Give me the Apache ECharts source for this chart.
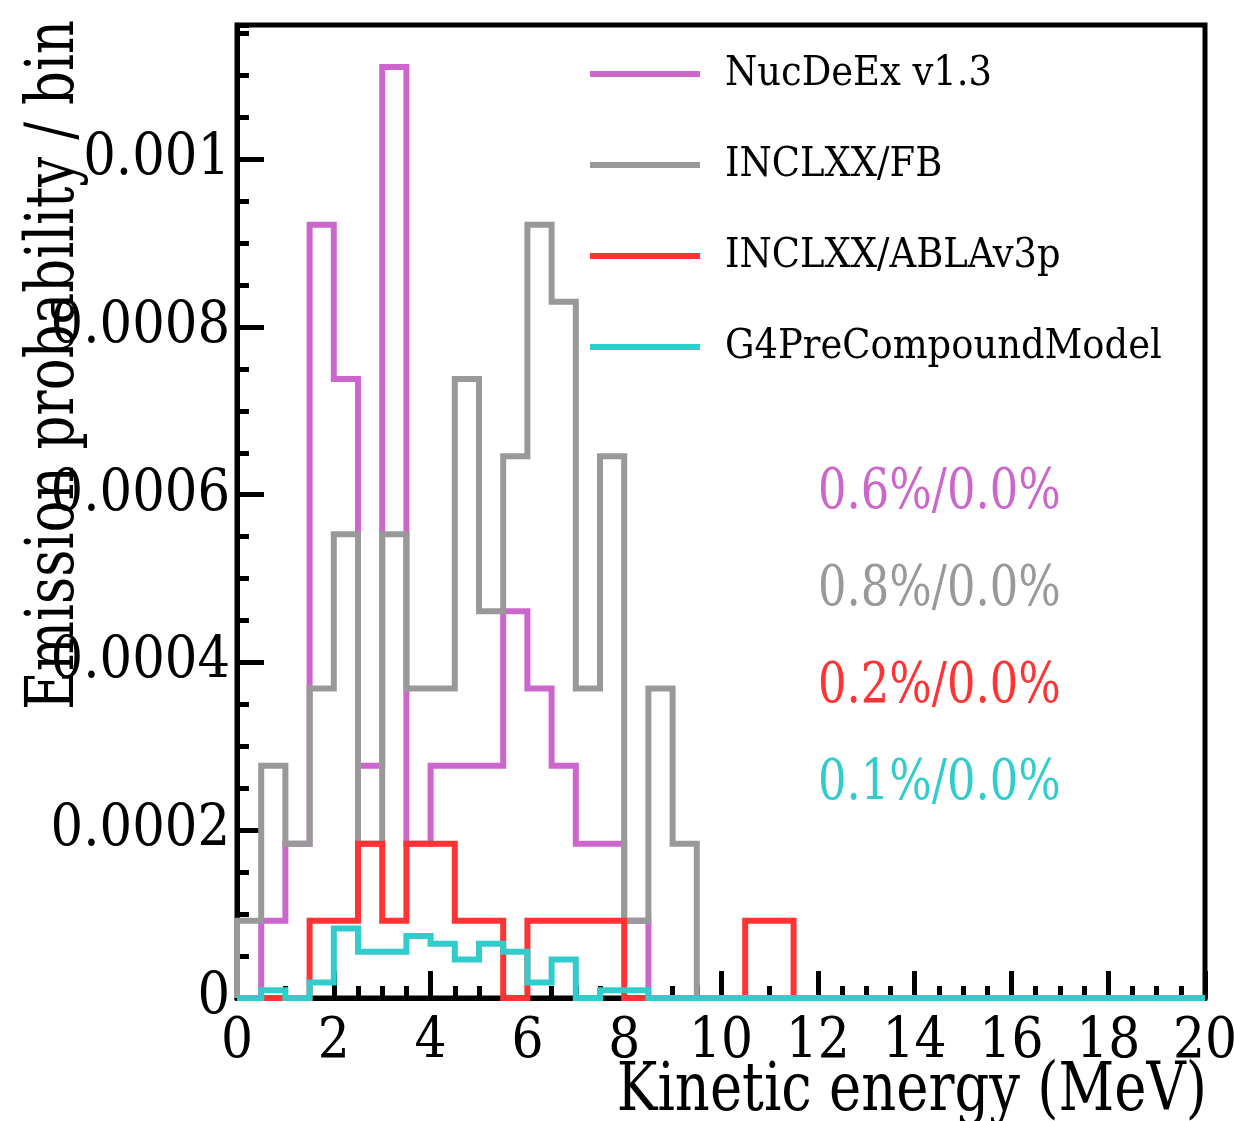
<!DOCTYPE html>
<html>
<head>
<meta charset="utf-8">
<script src="https://cdn.jsdelivr.net/npm/echarts@6/dist/echarts.min.js"></script>
<style>
  html, body { margin: 0; padding: 0; background: #fff; }
  #chart { width: 1234px; height: 1121px; }
</style>
</head>
<body>
<div id="chart"></div>
<script>
// bin width 0.5 MeV, 40 bins from 0 to 20 MeV
const binWidth = 0.5;
const xMax = 20;
const yMax = 0.00116;

const seriesNames = ["NucDeEx v1.3", "INCLXX/FB", "INCLXX/ABLAv3p", "G4PreCompoundModel"];
const seriesColors = ["#cc66cc", "#999999", "#ff3333", "#33cccc"];

const nucdeex = [
  0, 0.0000922, 0.000184, 0.000922, 0.000738, 0.000277, 0.00111, 0.000184,
  0.000277, 0.000277, 0.000277, 0.000461, 0.000369, 0.000277, 0.000184, 0.000184,
  0.0000922, 0, 0, 0, 0, 0, 0, 0,
  0, 0, 0, 0, 0, 0, 0, 0,
  0, 0, 0, 0, 0, 0, 0, 0
];
const inclFB = [
  0.0000922, 0.000277, 0.000184, 0.000369, 0.000553, 0.000184, 0.000553, 0.000369,
  0.000369, 0.000738, 0.000461, 0.000646, 0.000922, 0.00083, 0.000369, 0.000646,
  0.0000922, 0.000369, 0.000184, 0, 0, 0, 0, 0,
  0, 0, 0, 0, 0, 0, 0, 0,
  0, 0, 0, 0, 0, 0, 0, 0
];
const inclAbla = [
  0, 0, 0, 0.0000922, 0.0000922, 0.000184, 0.0000922, 0.000184,
  0.000184, 0.0000922, 0.0000922, 0, 0.0000922, 0.0000922, 0.0000922, 0.0000922,
  0, 0, 0, 0, 0, 0.0000922, 0.0000922, 0,
  0, 0, 0, 0, 0, 0, 0, 0,
  0, 0, 0, 0, 0, 0, 0, 0
];
const g4pre = [
  0, 0.0000092, 0, 0.0000185, 0.000083, 0.000055, 0.000055, 0.0000738,
  0.0000646, 0.000046, 0.0000646, 0.000055, 0.0000185, 0.000046, 0, 0.0000092,
  0.0000092, 0, 0, 0, 0, 0, 0, 0,
  0, 0, 0, 0, 0, 0, 0, 0,
  0, 0, 0, 0, 0, 0, 0, 0
];

const yTicks = [0, 0.0002, 0.0004, 0.0006, 0.0008, 0.001];
const fractionLabels = ["0.6%/0.0%", "0.8%/0.0%", "0.2%/0.0%", "0.1%/0.0%"];

const serif = "'DejaVu Serif Condensed', 'DejaVu Serif'";

// histogram outline: start at 0 on the left edge, hold each bin value until the next edge
function toSteps(values) {
  const pts = [[0, 0]];
  values.forEach((v, i) => pts.push([i * binWidth, v]));
  pts.push([xMax, values[values.length - 1]]);
  return pts;
}

const chart = echarts.init(document.getElementById("chart"));

chart.setOption({
  animation: false,
  grid: {
    left: 237,
    right: 29,
    top: 25,
    bottom: 123,
    outerBoundsMode: "none",
    show: true,
    borderColor: "#000",
    borderWidth: 5,
  },
  legend: {
    orient: "vertical",
    left: 590,
    top: 49,
    padding: 0,
    icon: "rect",
    itemWidth: 110,
    itemHeight: 6,
    itemGap: 41,
    textStyle: {
      fontFamily: serif,
      fontSize: 41,
      color: "#000",
      lineHeight: 50,
      padding: [0, 0, 0, 20],
    },
    data: seriesNames,
  },
  xAxis: {
    type: "value",
    min: 0,
    max: xMax,
    interval: 2,
    axisLine: { show: true, onZero: false, lineStyle: { color: "#000", width: 5 } },
    axisTick: { show: true, inside: true, length: 27, lineStyle: { color: "#000", width: 5 } },
    minorTick: { show: true, splitNumber: 4, length: 12, lineStyle: { color: "#000", width: 5 } },
    axisLabel: { fontFamily: serif, fontSize: 56, color: "#000", margin: 16 },
    splitLine: { show: false },
  },
  yAxis: [
    {
      type: "value",
      min: 0,
      max: yMax,
      axisLine: { show: true, lineStyle: { color: "#000", width: 5 } },
      axisTick: { show: true, inside: true, length: 27, customValues: yTicks, lineStyle: { color: "#000", width: 5 } },
      axisLabel: {
        customValues: yTicks,
        fontFamily: serif,
        fontSize: 57,
        color: "#000",
        margin: 7,
        formatter: (v) => String(v),
      },
      splitLine: { show: false },
    },
    {
      // minor ticks
      type: "value",
      position: "left",
      min: 0,
      max: yMax,
      interval: 0.00005,
      axisLine: { show: false },
      axisTick: { show: true, inside: true, length: 12, lineStyle: { color: "#000", width: 5 } },
      axisLabel: { show: false },
      splitLine: { show: false },
    },
  ],
  graphic: [
    {
      type: "text",
      x: 55,
      y: 20,
      rotation: Math.PI / 2,
      scaleX: 0.78,
      style: {
        text: "Emission probability / bin",
        font: "68px 'DejaVu Serif'",
        fill: "#000",
        align: "right",
        verticalAlign: "middle",
      },
    },
    {
      type: "text",
      x: 1207,
      y: 1092,
      scaleX: 0.8,
      style: {
        text: "Kinetic energy (MeV)",
        font: "68px 'DejaVu Serif'",
        fill: "#000",
        align: "right",
        verticalAlign: "middle",
      },
    },
  ].concat(
    fractionLabels.map((t, i) => ({
      type: "text",
      x: 818,
      y: 493 + i * 97,
      scaleX: 0.8,
      style: {
        text: t,
        font: "56px 'DejaVu Serif'",
        fill: seriesColors[i],
        align: "left",
        verticalAlign: "middle",
      },
    }))
  ),
  series: [nucdeex, inclFB, inclAbla, g4pre].map((vals, i) => ({
    name: seriesNames[i],
    type: "line",
    step: "end",
    symbol: "none",
    color: seriesColors[i],
    itemStyle: { color: seriesColors[i] },
    lineStyle: { color: seriesColors[i], width: 6, join: "miter" },
    data: toSteps(vals),
  })),
});
</script>
</body>
</html>
